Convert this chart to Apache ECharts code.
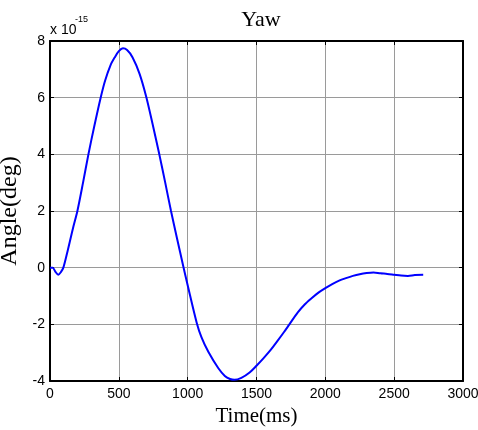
<!DOCTYPE html>
<html>
<head>
<meta charset="utf-8">
<script src="https://cdn.jsdelivr.net/npm/echarts@6/dist/echarts.min.js"></script>
<style>html,body{margin:0;padding:0;background:#fff}#c{width:478px;height:430px}</style>
</head>
<body>
<div id="c"></div>
<script>
// Time in ms
const timeMs = [0, 20, 40, 60, 80, 97, 128, 145, 170, 199, 240, 279, 322, 368, 400, 440, 470, 500, 530, 560, 600, 650, 698, 746, 794, 837, 879, 922, 968, 1000, 1066, 1100, 1151, 1223, 1270, 1308, 1340, 1390, 1450, 1500, 1550, 1600, 1650, 1700, 1739, 1800, 1850, 1900, 1950, 2000, 2050, 2100, 2150, 2200, 2250, 2300, 2350, 2400, 2450, 2500, 2550, 2600, 2650, 2711];
// Yaw angle in units of 1e-15 deg
const yawAngle = [0, 0, -0.15, -0.25, -0.15, 0, 0.59, 0.94, 1.45, 2.0, 3.0, 4.0, 5.0, 6.0, 6.6, 7.15, 7.42, 7.64, 7.74, 7.68, 7.42, 6.85, 6.05, 5.05, 4.0, 3.0, 2.0, 1.05, 0.05, -0.62, -1.95, -2.45, -2.98, -3.55, -3.82, -3.93, -3.96, -3.89, -3.7, -3.46, -3.2, -2.92, -2.6, -2.27, -2.0, -1.58, -1.3, -1.08, -0.88, -0.72, -0.58, -0.46, -0.37, -0.29, -0.23, -0.19, -0.17, -0.2, -0.22, -0.25, -0.28, -0.29, -0.26, -0.25];
const xTicks = [0, 500, 1000, 1500, 2000, 2500, 3000];
const yTicks = [-4, -2, 0, 2, 4, 6, 8];
const titleText = 'Yaw';
const xName = 'Time(ms)';
const yName = 'Angle(deg)';
const scaleExp = '-15';

const chart = echarts.init(document.getElementById('c'), null, {renderer: 'canvas'});
const data = timeMs.map((t, i) => [t, yawAngle[i]]);
const axisCommon = {
  axisLine: {show: true, onZero: false, lineStyle: {color: '#000', width: 2}},
  axisTick: {show: true, inside: true, length: 4, lineStyle: {color: '#000', width: 1}},
};
chart.setOption({
  animation: false,
  title: {
    text: titleText, left: 256, top: 4, textAlign: 'center',
    textStyle: {fontFamily: 'Liberation Serif', fontSize: 22, fontWeight: 'normal', color: '#000'}
  },
  grid: {left: 50, right: 15, top: 41, bottom: 49, containLabel: false, outerBoundsMode: 'none'},
  xAxis: [{
    type: 'value', min: xTicks[0], max: xTicks[xTicks.length - 1], interval: 500,
    position: 'bottom',
    name: xName, nameLocation: 'middle', nameGap: 25,
    nameTextStyle: {fontFamily: 'Liberation Serif', fontSize: 21, color: '#000'},
    ...axisCommon,
    axisLabel: {color: '#000', fontFamily: 'Liberation Sans', fontSize: 14, margin: 6, formatter: v => String(v)},
    splitLine: {show: true, lineStyle: {color: '#9a9a9a', width: 1}}
  }, {
    type: 'value', min: xTicks[0], max: xTicks[xTicks.length - 1], interval: 500,
    position: 'top', ...axisCommon, axisLabel: {show: false}, splitLine: {show: false}
  }],
  yAxis: [{
    type: 'value', min: yTicks[0], max: yTicks[yTicks.length - 1], interval: 2,
    position: 'left',
    name: yName, nameLocation: 'middle', nameGap: 17, nameRotate: 90,
    nameTextStyle: {fontFamily: 'Liberation Serif', fontSize: 24, color: '#000'},
    ...axisCommon,
    axisLabel: {color: '#000', fontFamily: 'Liberation Sans', fontSize: 14, margin: 5, formatter: v => String(v)},
    splitLine: {show: true, lineStyle: {color: '#9a9a9a', width: 1}}
  }, {
    type: 'value', min: yTicks[0], max: yTicks[yTicks.length - 1], interval: 2,
    position: 'right', ...axisCommon, axisLabel: {show: false}, splitLine: {show: false}
  }],
  graphic: [
    {type: 'text', left: 50, top: 23, style: {text: 'x 10', font: '14px "Liberation Sans"', fill: '#000'}},
    {type: 'text', left: 75, top: 15, style: {text: scaleExp, font: '9px "Liberation Sans"', fill: '#000'}}
  ],
  series: [{
    type: 'line', data: data, xAxisIndex: 0, yAxisIndex: 0,
    showSymbol: false, smooth: 0.3,
    lineStyle: {color: '#0000ff', width: 2}
  }]
});
</script>
</body>
</html>
